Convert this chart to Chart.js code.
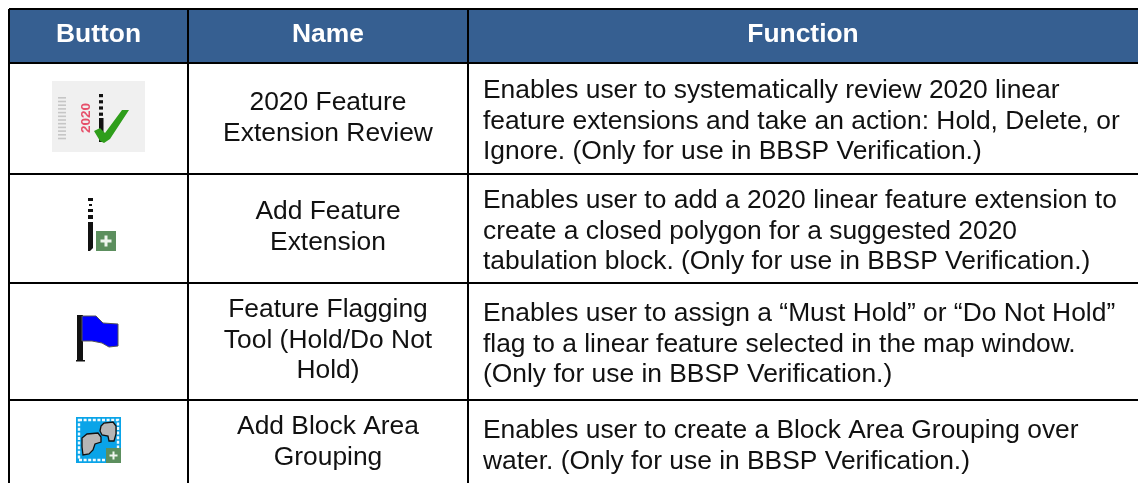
<!DOCTYPE html>
<html>
<head>
<meta charset="utf-8">
<style>
  html, body { margin: 0; padding: 0; background: #fff; }
  canvas { display: block; }
</style>
<script src="https://cdn.jsdelivr.net/npm/chart.js@4"></script>
</head>
<body>
<canvas id="tableChart" width="1138" height="483"></canvas>
<script>
// Table content
const headers = ['Button', 'Name', 'Function'];
const names = [
    ['2020 Feature', 'Extension Review'],
    ['Add Feature', 'Extension'],
    ['Feature Flagging', 'Tool (Hold/Do Not', 'Hold)'],
    ['Add Block Area', 'Grouping']
];
const functions = [
    ['Enables user to systematically review 2020 linear', 'feature extensions and take an action: Hold, Delete, or', 'Ignore. (Only for use in BBSP Verification.)'],
    ['Enables user to add a 2020 linear feature extension to', 'create a closed polygon for a suggested 2020', 'tabulation block. (Only for use in BBSP Verification.)'],
    ['Enables user to assign a \u201cMust Hold\u201d or \u201cDo Not Hold\u201d', 'flag to a linear feature selected in the map window.', '(Only for use in BBSP Verification.)'],
    ['Enables user to create a Block Area Grouping over', 'water. (Only for use in BBSP Verification.)']
];

// Table geometry, in canvas pixels (the scales run 1:1 with the canvas)
const columnEdges = [9, 188, 468];
const rowEdges = [9, 63, 174, 283, 400];
const nameBaselines = [110, 219, 317, 434];
const functionBaselines = [98, 208, 321, 438];
const headerBaseline = 42;
const functionLeft = 483;
const lineHeight = 30.7;
const fontFamily = '"Liberation Sans", Arial, sans-serif';
const fontSize = 26.4;

const colCenter = i => ((columnEdges[i] + (columnEdges[i + 1] || 1138)) / 2);
const rowCenter = i => ((rowEdges[i + 1] + (rowEdges[i + 2] || 483)) / 2);

function makeCanvas(w, h, draw) {
    const c = document.createElement('canvas');
    c.width = w;
    c.height = h;
    draw(c.getContext('2d'));
    return c;
}

function poly(ctx, pts, fill, stroke, lw) {
    ctx.beginPath();
    pts.forEach((p, i) => i ? ctx.lineTo(p[0], p[1]) : ctx.moveTo(p[0], p[1]));
    ctx.closePath();
    if (fill) { ctx.fillStyle = fill; ctx.fill(); }
    if (stroke) { ctx.strokeStyle = stroke; ctx.lineWidth = lw; ctx.stroke(); }
}

function plusBadge(ctx, x, y, s) {
    ctx.fillStyle = '#5c8f5e';
    ctx.fillRect(x, y, s, s);
    const arm = Math.round(s * 0.55), th = Math.max(2, Math.round(s * 0.16));
    ctx.fillStyle = '#eef5ee';
    ctx.fillRect(x + (s - arm) / 2, y + (s - th) / 2, arm, th);
    ctx.fillRect(x + (s - th) / 2, y + (s - arm) / 2, th, arm);
}

function reviewIcon() {
    return makeCanvas(93, 75, ctx => {
        ctx.fillStyle = '#f0f0f0';
        ctx.fillRect(0, 0, 93, 71);
        ctx.filter = 'blur(0.6px)';
        ctx.fillStyle = '#c6c6c6';
        for (let i = 0; i < 12; i++) ctx.fillRect(6, 16 + i * 3.7, 8, 1.6);
        ctx.save();
        ctx.translate(34, 37);
        ctx.rotate(-Math.PI / 2);
        ctx.font = 'bold 13.5px "Liberation Sans"';
        ctx.fillStyle = '#e6506a';
        ctx.textAlign = 'center';
        ctx.textBaseline = 'middle';
        ctx.fillText('2020', 0, 0);
        ctx.restore();
        ctx.fillStyle = '#111';
        for (let i = 0; i < 4; i++) ctx.fillRect(47, 13 + i * 6.2, 4, 3.2);
        ctx.fillRect(47, 37, 4.5, 24);
        poly(ctx, [[42, 50], [48, 47], [53, 52], [70, 29], [77, 29], [58, 58], [52, 62], [48, 60]], '#2f9e1b');
    });
}

function extensionIcon() {
    return makeCanvas(45, 61, ctx => {
        ctx.fillStyle = '#111';
        ctx.fillRect(12, 0, 5, 3);
        ctx.fillRect(13, 6, 3, 2);
        ctx.fillRect(12, 11, 5, 3);
        ctx.fillRect(12, 17, 5, 4);
        poly(ctx, [[12, 24], [17, 24], [17, 50], [14, 53], [12, 53]], '#111');
        plusBadge(ctx, 20, 33, 20);
    });
}

function flagIcon() {
    return makeCanvas(45, 53, ctx => {
        ctx.fillStyle = '#111';
        ctx.fillRect(1, 0, 6, 46);
        ctx.fillRect(0, 45, 9, 1.5);
        poly(ctx, [[6, 1], [20, 1], [27, 8], [42, 9], [42, 31], [33, 32], [26, 28], [16, 26], [6, 26]], '#0000ff', '#555', 1);
    });
}

function groupingIcon() {
    return makeCanvas(45, 49, ctx => {
        ctx.fillStyle = '#0aa4e8';
        ctx.fillRect(0, 0, 45, 46);
        ctx.strokeStyle = '#f2fbff';
        ctx.lineWidth = 2.4;
        ctx.setLineDash([3, 1.6]);
        ctx.strokeRect(3, 3, 39, 40);
        ctx.setLineDash([]);
        poly(ctx, [[6, 21], [11, 17], [22, 16], [25, 20], [25, 25], [19, 27], [17, 33], [13, 37], [7, 38], [6, 30]], '#b6b6b6', '#111', 1.3);
        poly(ctx, [[25, 9], [28, 6], [37, 5], [40, 9], [40, 17], [38, 24], [33, 24], [32, 19], [26, 18], [24, 14]], '#b6b6b6', '#111', 1.3);
        plusBadge(ctx, 30, 31, 15);
    });
}

const icons = [reviewIcon(), extensionIcon(), flagIcon(), groupingIcon()];

// Draws the header band behind the grid lines and all of the cell text on top
const tablePlugin = {
    id: 'tablePlugin',
    beforeDraw(chart) {
        const { ctx, scales: { x, y } } = chart;
        ctx.save();
        ctx.fillStyle = '#ffffff';
        ctx.fillRect(0, 0, chart.width, chart.height);
        ctx.fillStyle = '#365f91';
        ctx.fillRect(x.getPixelForValue(columnEdges[0]), y.getPixelForValue(rowEdges[0]),
            chart.width, y.getPixelForValue(rowEdges[1]) - y.getPixelForValue(rowEdges[0]));
        ctx.restore();
    },
    afterDraw(chart) {
        const { ctx, scales: { x, y } } = chart;
        ctx.save();
        ctx.textBaseline = 'alphabetic';

        ctx.font = 'bold ' + fontSize + 'px ' + fontFamily;
        ctx.fillStyle = '#ffffff';
        ctx.textAlign = 'center';
        headers.forEach((h, i) => {
            ctx.fillText(h, x.getPixelForValue(colCenter(i)), y.getPixelForValue(headerBaseline));
        });

        ctx.font = fontSize + 'px ' + fontFamily;
        ctx.fillStyle = '#111111';
        names.forEach((lines, r) => {
            lines.forEach((line, l) => {
                ctx.fillText(line, x.getPixelForValue(colCenter(1)), y.getPixelForValue(nameBaselines[r] + l * lineHeight));
            });
        });
        ctx.textAlign = 'left';
        functions.forEach((lines, r) => {
            lines.forEach((line, l) => {
                ctx.fillText(line, x.getPixelForValue(functionLeft), y.getPixelForValue(functionBaselines[r] + l * lineHeight));
            });
        });
        ctx.restore();
    }
};

new Chart(document.getElementById('tableChart').getContext('2d'), {
    type: 'scatter',
    data: {
        datasets: [{
            label: 'Button',
            data: icons.map((icon, i) => ({ x: colCenter(0), y: rowCenter(i) })),
            pointStyle: icons,
            pointRadius: 10,
            clip: false
        }]
    },
    options: {
        responsive: false,
        animation: false,
        layout: { autoPadding: false, padding: { left: columnEdges[0], top: rowEdges[0], right: 0, bottom: 0 } },
        plugins: {
            legend: { display: false },
            tooltip: { enabled: false }
        },
        scales: {
            x: {
                type: 'linear',
                min: columnEdges[0],
                max: 1138,
                afterBuildTicks: scale => { scale.ticks = columnEdges.map(v => ({ value: v })); },
                ticks: { display: false },
                border: { display: false },
                grid: { color: '#000000', lineWidth: 2, drawTicks: false }
            },
            y: {
                type: 'linear',
                reverse: true,
                min: rowEdges[0],
                max: 483,
                afterBuildTicks: scale => { scale.ticks = rowEdges.map(v => ({ value: v })); },
                ticks: { display: false },
                border: { display: false },
                grid: { color: '#000000', lineWidth: 2, drawTicks: false }
            }
        }
    },
    plugins: [tablePlugin]
});
</script>
</body>
</html>
